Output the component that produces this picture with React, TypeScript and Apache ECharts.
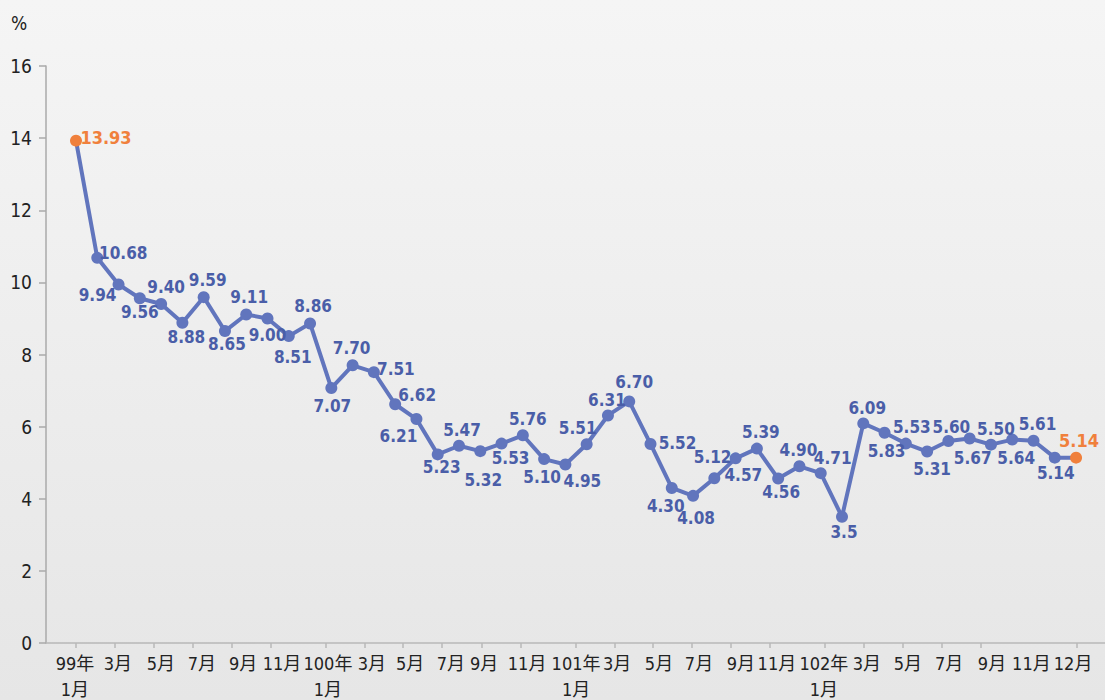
import React, { useEffect, useRef } from "react";
import * as echarts from "echarts";

// Monthly values, 99年1月 .. 102年12月 (48 months)
const rates = [
  13.93, 10.68, 9.94, 9.56, 9.4, 8.88, 9.59, 8.65, 9.11, 9.0, 8.51, 8.86,
  7.07, 7.7, 7.51, 6.62, 6.21, 5.23, 5.47, 5.32, 5.53, 5.76, 5.1, 4.95,
  5.51, 6.31, 6.7, 5.52, 4.3, 4.08, 4.57, 5.12, 5.39, 4.56, 4.9, 4.71,
  3.5, 6.09, 5.83, 5.53, 5.31, 5.6, 5.67, 5.5, 5.64, 5.61, 5.14, 5.14,
];
const labelTexts = [
  "13.93", "10.68", "9.94", "9.56", "9.40", "8.88", "9.59", "8.65", "9.11", "9.00", "8.51", "8.86",
  "7.07", "7.70", "7.51", "6.62", "6.21", "5.23", "5.47", "5.32", "5.53", "5.76", "5.10", "4.95",
  "5.51", "6.31", "6.70", "5.52", "4.30", "4.08", "4.57", "5.12", "5.39", "4.56", "4.90", "4.71",
  "3.5", "6.09", "5.83", "5.53", "5.31", "5.60", "5.67", "5.50", "5.64", "5.61", "5.14", "5.14",
];

// x-axis tick labels and their positions (in month-index units)
const xLabelTexts = [
  "99年\n1月", "3月", "5月", "7月", "9月", "11月",
  "100年\n1月", "3月", "5月", "7月", "9月", "11月",
  "101年\n1月", "3月", "5月", "7月", "9月", "11月",
  "102年\n1月", "3月", "5月", "7月", "9月", "11月", "12月",
];
const xLabelPos = [
  -0.05, 1.97, 3.99, 5.92, 7.85, 9.68,
  11.84, 13.91, 15.7, 17.62, 19.18, 21.2,
  23.5, 25.43, 27.4, 29.28, 31.25, 32.94,
  35.15, 37.17, 39.1, 41.03, 43.05, 44.9, 46.86,
];
const xTickPos = [
  0, 1.83, 3.67, 5.5, 7.33, 9.17,
  11.75, 13.58, 15.37, 17.2, 19.08, 20.92,
  23.5, 25.33, 27.12, 28.95, 30.78, 32.62,
  35.2, 37.04, 38.87, 40.7, 42.53, 47.05,
];

// per-point label offsets (style): label centre relative to the point
const labelOffsets: [number, number][] = [
  [30, -3], [26, -5], [-21, 10], [0, 14], [5, -17], [4, 14], [4, -17], [2, 13], [3, -17], [0, 17], [4, 21], [3, -17],
  [1, 18], [-1, -17], [22, -3], [22, -9], [-18, 17], [4, 13], [3, -16], [3, 29], [9, 14], [5, -16], [-2, 18], [17, 17],
  [-9, -16], [-1, -15], [5, -19], [27, -1], [-6, 18], [3, 22], [29, -3], [-23, -1], [4, -17], [3, 13], [-1, -16], [12, -15],
  [2, 15], [4, -15], [2, 18], [6, -17], [5, 17], [3, -14], [3, 19], [5, -16], [4, 18], [4, -17], [1, 15], [3, -17],
];

const BLUE = "#6175bd";
const LABEL_BLUE = "#4a5ea8";
const ORANGE = "#f0803c";
const NARROW = '"DejaVu Sans Condensed", "Liberation Sans Narrow", "Noto Sans CJK TC", sans-serif';
const LABEL_LH = 20;
const SYMBOL = 12;

function labelPlacement(dx: number, dy: number) {
  const below = dy >= 0;
  const distance = Math.abs(dy) - SYMBOL / 2 - LABEL_LH / 2;
  return {
    position: below ? "bottom" : "top",
    distance,
    padding: [0, Math.max(0, -2 * dx), 0, Math.max(0, 2 * dx)],
  };
}

export default function App() {
  const ref = useRef<HTMLDivElement>(null);
  useEffect(() => {
    if (!ref.current) return;
    const chart = echarts.init(ref.current, null, { renderer: "svg" });
    const last = rates.length - 1;
    const data = rates.map((v, i) => {
      const hi = i === 0 || i === last;
      const [dx, dy] = labelOffsets[i];
      return {
        value: [i, v],
        itemStyle: hi ? { color: ORANGE } : undefined,
        label: {
          formatter: labelTexts[i],
          ...labelPlacement(dx, dy),
          color: hi ? ORANGE : LABEL_BLUE,
          fontSize: hi ? 18 : 17,
        },
      };
    });
    chart.setOption({
      animation: false,
      backgroundColor: {
        type: "linear",
        x: 0,
        y: 0,
        x2: 0,
        y2: 1,
        colorStops: [
          { offset: 0, color: "#f5f5f5" },
          { offset: 1, color: "#e6e6e6" },
        ],
      },
      grid: { left: 46, right: 0, top: 66, bottom: 57, containLabel: false, outerBoundsMode: "none" },
      graphic: [
        {
          type: "text",
          left: 11,
          top: 13,
          style: { text: "%", fontSize: 19, fill: "#222", fontFamily: NARROW },
        },
      ],
      xAxis: {
        type: "value",
        min: -1.41,
        max: 48.36,
        splitLine: { show: false },
        axisLine: { show: true, onZero: false, lineStyle: { color: "#b8b8b8", width: 1.5 } },
        axisTick: {
          show: true,
          length: 5,
          customValues: xTickPos,
          lineStyle: { color: "#b8b8b8", width: 1.5 },
        },
        axisLabel: {
          customValues: xLabelPos,
          hideOverlap: false,
          formatter: (val: number, idx: number) => {
            const k = xLabelPos.indexOf(val);
            return xLabelTexts[k >= 0 ? k : idx] ?? "";
          },
          fontSize: 18,
          lineHeight: 26,
          margin: 7,
          color: "#222",
          fontFamily: NARROW,
        },
      },
      yAxis: {
        type: "value",
        min: 0,
        max: 16,
        interval: 2,
        splitLine: { show: false },
        axisLine: { show: true, onZero: false, lineStyle: { color: "#aaaaaa", width: 1.5 } },
        axisTick: { show: true, length: 7, lineStyle: { color: "#aaaaaa", width: 1.5 } },
        axisLabel: {
          fontSize: 19,
          color: "#222",
          margin: 14,
          padding: [0, 0, 8, 0],
          fontFamily: NARROW,
        },
      },
      series: [
        {
          type: "line",
          data,
          symbol: "circle",
          symbolSize: SYMBOL,
          lineStyle: { color: BLUE, width: 4 },
          itemStyle: { color: BLUE },
          label: {
            show: true,
            fontFamily: NARROW,
            fontWeight: "bold",
            fontSize: 17,
            lineHeight: LABEL_LH,
            color: LABEL_BLUE,
          },
        },
      ],
    });
    return () => chart.dispose();
  }, []);
  return (
    <div
      ref={ref}
      style={{ position: "fixed", left: 0, top: 0, width: 1105, height: 700 }}
    />
  );
}
